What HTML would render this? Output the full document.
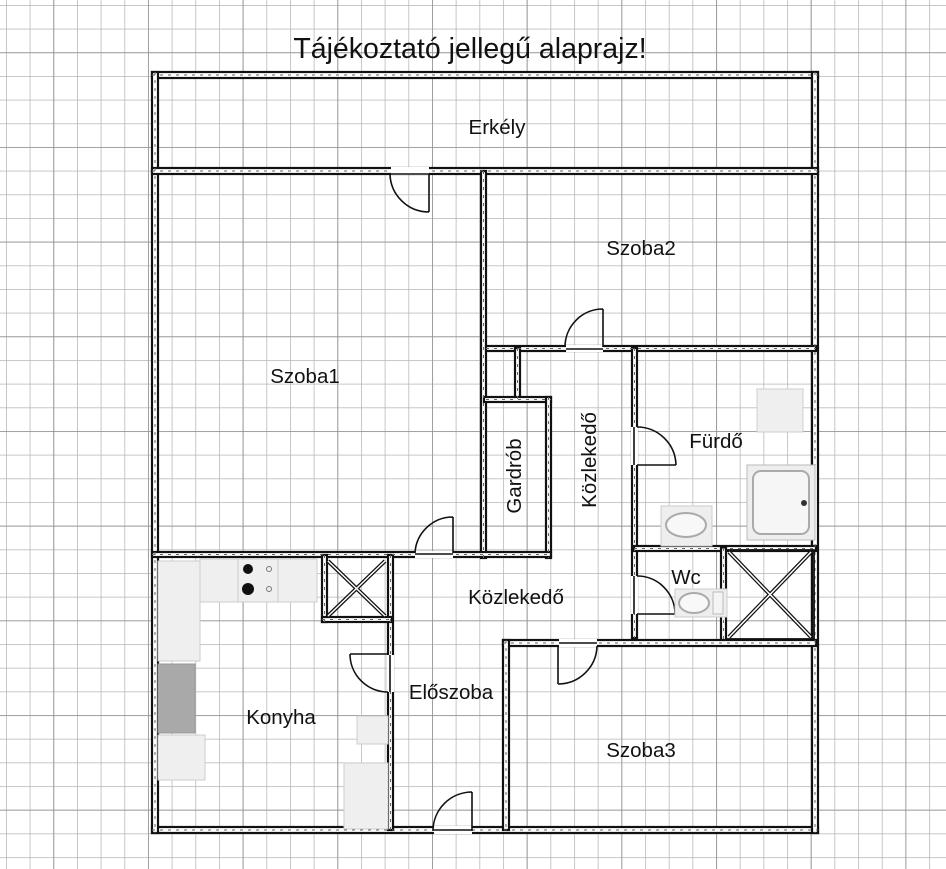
<!DOCTYPE html>
<html><head><meta charset="utf-8"><style>
html,body{margin:0;padding:0;background:#fff;}
svg{display:block;}
text{font-family:"Liberation Sans",sans-serif;fill:#111;}
</style></head><body>
<svg width="946" height="869" viewBox="0 0 946 869" xmlns="http://www.w3.org/2000/svg">
<defs>
<pattern id="g" x="6" y="5" width="23.67" height="23.67" patternUnits="userSpaceOnUse">
<path d="M0 0H23.67M0 0V23.67" stroke="#b4b4b4" stroke-width="1.5" fill="none"/>
</pattern>
<pattern id="G" x="53.3" y="52.3" width="94.68" height="94.68" patternUnits="userSpaceOnUse">
<path d="M0 0H94.68M0 0V94.68" stroke="#929292" stroke-width="1.6" fill="none"/>
</pattern>
</defs>
<rect width="946" height="869" fill="#fff"/>
<rect width="946" height="869" fill="url(#g)"/>
<rect width="946" height="869" fill="url(#G)"/>
<text x="470" y="58" font-size="28.5" text-anchor="middle">Tájékoztató jellegű alaprajz!</text>

<g fill="#fff" stroke="#111" stroke-width="2.2">
<rect x="152" y="72" width="666" height="6"/>
<rect x="152" y="827" width="666" height="6"/>
<rect x="152" y="72" width="6" height="761"/>
<rect x="812" y="72" width="6" height="761"/>
<rect x="152" y="168" width="666" height="6"/>
<rect x="481" y="171" width="5" height="387"/>
<rect x="486" y="346" width="330" height="5"/>
<rect x="515" y="348" width="5" height="52"/>
<rect x="484" y="397" width="67" height="5"/>
<rect x="546" y="397" width="5" height="161"/>
<rect x="152" y="552" width="399" height="5"/>
<rect x="632" y="348" width="5" height="290"/>
<rect x="634" y="546" width="182" height="5"/>
<rect x="721" y="548" width="5" height="94"/>
<rect x="503" y="640" width="313" height="6"/>
<rect x="503" y="640" width="6" height="190"/>
<rect x="388" y="555" width="5" height="275"/>
<rect x="322" y="555" width="5" height="67"/>
<rect x="322" y="617" width="70" height="5"/>
</g>
<g stroke="#666" stroke-width="1" stroke-dasharray="3 5" fill="none">
<path d="M152 75H818M152 830H818M155 72V833M815 72V833M152 171H818M483.5 171V558M486 348.5H816M517.5 348V400M486 399.5H551M548.5 397V558M152 554.5H551M634.5 348V638M634 548.5H816M723.5 548V642M503 643H816M506 640V830M390.5 555V830M324.5 555V622M322 619.5H392"/>
</g>

<g fill="#fff">
<rect x="391" y="167" width="38" height="8"/>
<rect x="566" y="345" width="37" height="7"/>
<rect x="415" y="551" width="38" height="7"/>
<rect x="631" y="427" width="7" height="38"/>
<rect x="631" y="576" width="7" height="38"/>
<rect x="387" y="655" width="7" height="37"/>
<rect x="559" y="639" width="38" height="8"/>
<rect x="434" y="826" width="38" height="8"/>
</g>
<g stroke="#111" stroke-width="1.6" fill="none">
<path d="M391 174H429M566 349H603M415 554H453M634 427V465M634 576V614M390 655V692M559 643H597M434 830H472"/>
<path d="M429 174V212M390 174A39 39 0 0 0 429 212"/>
<path d="M603 347V309M565 347A38 38 0 0 1 603 309"/>
<path d="M453 553V517M415 553A38 38 0 0 1 453 517"/>
<path d="M637 465H676M637 427A39 39 0 0 1 676 465"/>
<path d="M637 614H675M637 576A38 38 0 0 1 675 614"/>
<path d="M388 654H350M350 654A38 38 0 0 0 388 692"/>
<path d="M558 646V684M558 684A39 39 0 0 0 597 646"/>
<path d="M472 831V792M433 831A39 39 0 0 1 472 792"/>
</g>

<g stroke="#111" stroke-width="4" fill="none">
<path d="M328 561L385 616M385 561L328 616"/>
<path d="M729 552L811 637M811 552L729 637"/>
</g>
<g stroke="#fff" stroke-width="1.5" fill="none">
<path d="M328 561L385 616M385 561L328 616"/>
<path d="M729 552L811 637M811 552L729 637"/>
</g>
<rect x="726" y="550" width="88" height="89" fill="none" stroke="#111" stroke-width="1.8"/>

<g fill="#efefef" stroke="#ccc" stroke-width="1">
<rect x="158" y="561" width="42" height="100"/>
<rect x="158" y="735" width="47" height="45"/>
<rect x="200" y="559" width="38" height="43"/>
<rect x="238" y="559" width="40" height="43"/>
<rect x="278" y="559" width="39" height="43"/>
<rect x="357" y="716" width="31" height="28"/>
<rect x="344" y="763" width="44" height="66"/>
<rect x="757" y="389" width="46" height="43"/>
</g>
<rect x="158" y="664" width="37" height="69" fill="#a9a9a9" stroke="#999"/>
<circle cx="248" cy="569" r="5" fill="#111"/>
<circle cx="248" cy="589" r="6" fill="#111"/>
<circle cx="269" cy="569" r="2.5" fill="none" stroke="#777"/>
<circle cx="269" cy="589" r="2.5" fill="none" stroke="#777"/>
<rect x="747" y="465" width="68" height="75" fill="#eee" stroke="#bbb"/>
<rect x="753" y="471" width="56" height="63" rx="8" fill="#f6f6f6" stroke="#aaa" stroke-width="2"/>
<circle cx="804" cy="503" r="3" fill="#333"/>
<rect x="661" y="506" width="51" height="40" fill="#eee" stroke="#ccc"/>
<ellipse cx="686" cy="525" rx="20" ry="12" fill="#f8f8f8" stroke="#aaa" stroke-width="2"/>
<rect x="675" y="589" width="52" height="28" fill="#eee" stroke="#ccc"/>
<ellipse cx="694" cy="603" rx="15" ry="10" fill="#f8f8f8" stroke="#aaa" stroke-width="2"/>
<rect x="713" y="592" width="10" height="22" fill="#f4f4f4" stroke="#bbb"/>

<g font-size="20.5" text-anchor="middle">
<text x="497" y="134">Erkély</text>
<text x="641" y="255">Szoba2</text>
<text x="305" y="383">Szoba1</text>
<text x="716" y="448">Fürdő</text>
<text x="516" y="604">Közlekedő</text>
<text x="686" y="584">Wc</text>
<text x="451" y="699">Előszoba</text>
<text x="281" y="724">Konyha</text>
<text x="641" y="757">Szoba3</text>
<text transform="translate(521,476) rotate(-90)">Gardrób</text>
<text transform="translate(596,460) rotate(-90)">Közlekedő</text>
</g>
</svg>
</body></html>
